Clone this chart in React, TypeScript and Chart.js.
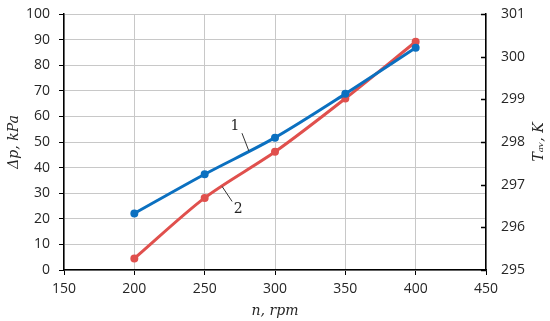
import React, { useEffect, useRef } from "react";
import { Chart, registerables } from "chart.js";

Chart.register(...registerables);

const rpm = [200, 250, 300, 350, 400];
const pressure = [22.1, 37.4, 51.7, 68.8, 86.8];
const temperature = [295.27, 296.69, 297.77, 299.02, 300.35];

const xTitle = "n, rpm";
const yTitle = "Δp, kPa";
const y2Title = "Tₐᵥ, K";

const calloutLabels = ["1", "2"];
const calloutX = [281.5, 262.4];

const BLUE = "#0B70C0";
const RED = "#E0504D";

function interp(xs: number[], ys: number[], x: number) {
  for (let i = 0; i < xs.length - 1; i++) {
    if (x >= xs[i] && x <= xs[i + 1]) {
      const t = (x - xs[i]) / (xs[i + 1] - xs[i]);
      return ys[i] + t * (ys[i + 1] - ys[i]);
    }
  }
  return ys[ys.length - 1];
}

const extrasPlugin = {
  id: "extras",
  afterDraw(chart: any) {
    const ctx = chart.ctx;
    const xs = chart.scales.x;
    const y = chart.scales.y;
    const y2 = chart.scales.y2;
    ctx.save();
    ctx.strokeStyle = "#000";
    ctx.lineWidth = 1.5;
    y2.ticks.forEach((t: any) => {
      const py = Math.round(y2.getPixelForValue(t.value)) + 0.5;
      ctx.beginPath();
      ctx.moveTo(y2.left - 5, py);
      ctx.lineTo(y2.left, py);
      ctx.stroke();
    });
    ctx.fillStyle = "#262626";
    ctx.font = "italic 14px 'DejaVu Serif'";
    ctx.textAlign = "center";
    ctx.textBaseline = "middle";
    ctx.translate(y2.right - 11, (y2.top + y2.bottom) / 2);
    ctx.rotate(-Math.PI / 2);
    ctx.fillText(y2Title, 0, 0);
    ctx.restore();

    ctx.save();
    ctx.strokeStyle = "#333";
    ctx.lineWidth = 1;
    ctx.fillStyle = "#222";
    ctx.font = "14px 'DejaVu Serif'";
    ctx.textAlign = "center";
    ctx.textBaseline = "middle";
    const defs = [
      { px: xs.getPixelForValue(calloutX[0]), py: y.getPixelForValue(interp(rpm, pressure, calloutX[0])), lx: -7, ly: -18, tx: -14, ty: -25 },
      { px: xs.getPixelForValue(calloutX[1]), py: y2.getPixelForValue(interp(rpm, temperature, calloutX[1])), lx: 10, ly: 15, tx: 16, ty: 23 },
    ];
    defs.forEach((d, i) => {
      ctx.beginPath();
      ctx.moveTo(d.px, d.py);
      ctx.lineTo(d.px + d.lx, d.py + d.ly);
      ctx.stroke();
      ctx.fillText(calloutLabels[i], d.px + d.tx, d.py + d.ty);
    });
    ctx.restore();
  },
};

export default function App() {
  const ref = useRef<HTMLCanvasElement>(null);
  useEffect(() => {
    document.body.style.margin = "0";
    const tickFont = { family: "'Open Sans'", size: 14 };
    const titleFont = { family: "'DejaVu Serif'", size: 14, style: "italic" as const };
    const fitV = (s: any) => { s.width = 64; s.paddingTop = 0; s.paddingBottom = 0; };
    const chart = new Chart(ref.current!, {
      type: "line",
      data: {
        datasets: [
          {
            label: "1",
            data: rpm.map((x, i) => ({ x, y: pressure[i] })),
            borderColor: BLUE,
            backgroundColor: BLUE,
            borderWidth: 3,
            pointRadius: 2.5,
            tension: 0.3,
            yAxisID: "y",
          },
          {
            label: "2",
            data: rpm.map((x, i) => ({ x, y: temperature[i] })),
            borderColor: RED,
            backgroundColor: RED,
            borderWidth: 3,
            pointRadius: 2.5,
            tension: 0.3,
            yAxisID: "y2",
          },
        ],
      },
      options: {
        animation: false,
        responsive: true,
        maintainAspectRatio: false,
        layout: { padding: { top: 14, left: 0, right: 0, bottom: 0 } },
        plugins: { legend: { display: false }, tooltip: { enabled: false } },
        scales: {
          x: {
            type: "linear",
            min: 150,
            max: 450,
            ticks: { stepSize: 50, font: tickFont, color: "#262626", padding: 6 },
            grid: { color: "#C8C8C8", tickColor: "#000", tickLength: 5 },
            border: { color: "#000", width: 1.5 },
            title: { display: true, text: xTitle, font: titleFont, color: "#262626", padding: { top: 0, bottom: 1 } },
            afterFit: (s: any) => { s.height = 51; s.paddingLeft = 0; s.paddingRight = 0; },
          },
          y: {
            position: "left",
            min: 0,
            max: 100,
            ticks: { stepSize: 10, font: tickFont, color: "#262626", padding: 9 },
            grid: { color: "#C8C8C8", tickColor: "#000", tickLength: 5 },
            border: { color: "#000", width: 1.5 },
            title: { display: true, text: yTitle, font: titleFont, color: "#262626", padding: { top: 6, bottom: 0 } },
            afterFit: fitV,
          },
          y2: {
            position: "right",
            min: 295,
            max: 301,
            ticks: { stepSize: 1, font: tickFont, color: "#262626", padding: 15 },
            grid: { drawOnChartArea: false, drawTicks: false },
            border: { color: "#000", width: 1.5 },
            afterFit: fitV,
          },
        },
      },
      plugins: [extrasPlugin],
    });
    return () => chart.destroy();
  }, []);
  return (
    <div style={{ width: 550, height: 321, position: "relative" }}>
      <canvas ref={ref} />
    </div>
  );
}
